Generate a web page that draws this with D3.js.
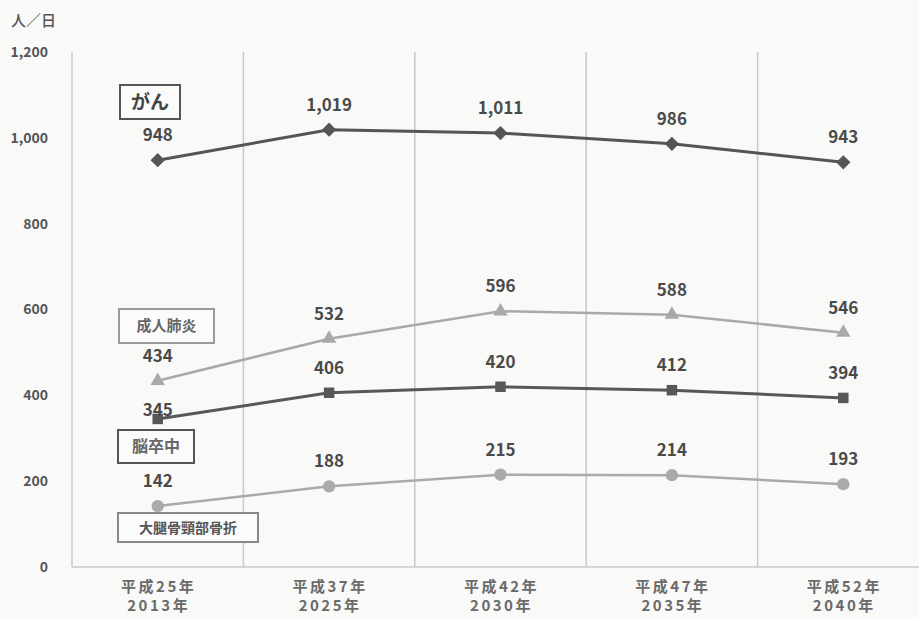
<!DOCTYPE html>
<html><head><meta charset="utf-8">
<script src="https://cdn.jsdelivr.net/npm/d3@7/dist/d3.min.js"></script>
<style>
html,body{margin:0;padding:0;background:#f9f9f8;}
svg{display:block;}
text{font-family:"Noto Sans CJK JP","Noto Sans",sans-serif;}
</style></head>
<body>
<svg id="c" width="919" height="619"></svg>
<script>
const categoriesTop = ["平成25年","平成37年","平成42年","平成47年","平成52年"];
const categoriesBottom = ["2013年","2025年","2030年","2035年","2040年"];
const yTicks = [0,200,400,600,800,1000,1200];
const unitLabel = "人／日";
const seriesNames = ["がん","成人肺炎","脳卒中","大腿骨頸部骨折"];
const gan = [948,1019,1011,986,943];
const haien = [434,532,596,588,546];
const noso = [345,406,420,412,394];
const kossetsu = [142,188,215,214,193];

const series = [
  {name:seriesNames[0], values:gan, color:"#555", width:3, symbol:d3.symbolDiamond2, size:130, box:{x:120,y:85,w:60,h:34,stroke:"#555",fs:19,tc:"#444"}},
  {name:seriesNames[1], values:haien, color:"#a9a9a9", width:2.5, symbol:d3.symbolTriangle, size:90, box:{x:119,y:309,w:95,h:34,stroke:"#999",fs:15,tc:"#666"}},
  {name:seriesNames[2], values:noso, color:"#575757", width:3, symbol:d3.symbolSquare, size:110, box:{x:118,y:430,w:76,h:33,stroke:"#555",fs:16,tc:"#666"}},
  {name:seriesNames[3], values:kossetsu, color:"#aaa", width:2.5, symbol:d3.symbolCircle, size:120, box:{x:118,y:513,w:140,h:29,stroke:"#888",fs:14,tc:"#555"}}
];

const svg = d3.select("#c");
const left = 72, bandW = 171.4;
const x = d3.scaleBand().domain(categoriesTop).range([left, left + bandW*5]).paddingInner(0).paddingOuter(0);
const y = d3.scaleLinear().domain([0,1200]).range([567,52]);

// vertical gridlines
const grid = svg.append("g");
const bounds = categoriesTop.map(c => x(c));
grid.selectAll("line").data(bounds).join("line")
  .attr("x1", d=>d).attr("x2", d=>d).attr("y1", y(1200)).attr("y2", y(0))
  .attr("stroke","#c8c8c8").attr("stroke-width",1.5);
// baseline
grid.append("line").attr("x1",left).attr("x2",919).attr("y1",y(0)).attr("y2",y(0))
  .attr("stroke","#c8c8c8").attr("stroke-width",1.5);

// y axis labels
const yAxis = d3.axisLeft(y).tickValues(yTicks).tickSize(0).tickPadding(0).tickFormat(d3.format(","));
const ya = svg.append("g").attr("transform","translate(48,0)").call(yAxis);
ya.select(".domain").remove();
ya.selectAll("text").attr("font-size",14).attr("font-weight",700).attr("fill","#555")
  .attr("font-family","'Noto Sans CJK JP',sans-serif");

svg.append("text").attr("x",11).attr("y",26).attr("font-size",15).attr("font-weight",500).attr("fill","#555").text(unitLabel);

// x axis labels
const xa = svg.append("g");
categoriesTop.forEach((c,i)=>{
  const cx = x(c) + x.bandwidth()/2;
  const t = xa.append("text").attr("text-anchor","middle").attr("font-size",15).attr("font-weight",700)
    .attr("fill","#6a6a6a").attr("letter-spacing","2.5px");
  t.append("tspan").attr("x",cx+1).attr("y",592).text(c);
  t.append("tspan").attr("x",cx+1).attr("y",611).text(categoriesBottom[i]);
});

const cxOf = i => x(categoriesTop[i]) + x.bandwidth()/2;
const line = d3.line().x((d,i)=>cxOf(i)).y(d=>y(d));

// label boxes
series.forEach(s=>{
  const b = s.box;
  svg.append("rect").attr("x",b.x).attr("y",b.y).attr("width",b.w).attr("height",b.h)
    .attr("fill","#fbfbfb").attr("stroke",b.stroke).attr("stroke-width",2);
  svg.append("text").attr("x",b.x+b.w/2).attr("y",b.y+b.h/2).attr("dy","0.36em")
    .attr("text-anchor","middle").attr("font-size",b.fs).attr("font-weight",700).attr("fill",b.tc).text(s.name);
});

series.forEach((s,si)=>{
  const g = svg.append("g");
  g.append("path").attr("d",line(s.values)).attr("fill","none").attr("stroke",s.color).attr("stroke-width",s.width);
  g.selectAll("path.m").data(s.values).join("path").attr("class","m")
    .attr("transform",(d,i)=>`translate(${cxOf(i)},${y(d)})`)
    .attr("d", d3.symbol().type(s.symbol).size(s.size)).attr("fill",s.color);
  g.selectAll("text").data(s.values).join("text")
    .attr("x",(d,i)=>cxOf(i)).attr("y",(d,i)=>y(d) - ((si===2 && i===0) ? 3 : 19))
    .attr("text-anchor","middle").attr("font-size",17).attr("font-weight",600).attr("fill","#4a4a4a")
    .text(d=>d3.format(",")(d));
});
</script>
</body></html>
